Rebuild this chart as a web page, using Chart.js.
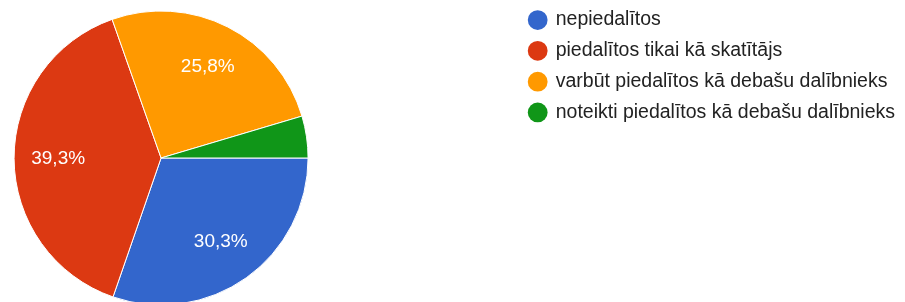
<!DOCTYPE html>
<html>
<head>
<meta charset="utf-8">
<script src="https://cdn.jsdelivr.net/npm/chart.js@4.4.1/dist/chart.umd.min.js"></script>
<style>
  html, body { margin: 0; padding: 0; background: #fff; }
  #wrap { position: relative; width: 905px; height: 302px; overflow: hidden; }
  #chart { position: absolute; left: -196px; top: -1px; }
</style>
</head>
<body>
<div id="wrap"><canvas id="chart" width="1101" height="320"></canvas></div>
<script>
const labels = [
    "nepiedalītos",
    "piedalītos tikai kā skatītājs",
    "varbūt piedalītos kā debašu dalībnieks",
    "noteikti piedalītos kā debašu dalībnieks"
];
const shares = [30.3, 39.3, 25.8, 4.6];
const colors = ['#3366cc', '#dc3912', '#ff9900', '#109618'];

const fontFamily = '"Liberation Sans", Arial, sans-serif';

// slice labels in white, hidden for the small slices
const sliceLabels = {
    id: 'sliceLabels',
    afterDatasetsDraw(chart) {
        const ctx = chart.ctx;
        const meta = chart.getDatasetMeta(0);
        const data = chart.data.datasets[0].data;
        const total = data.reduce((a, b) => a + b, 0);
        ctx.save();
        ctx.fillStyle = '#ffffff';
        ctx.font = '19px ' + fontFamily;
        ctx.textAlign = 'center';
        ctx.textBaseline = 'middle';
        meta.data.forEach(function(arc, i) {
            const pct = data[i] / total * 100;
            if (pct < 5) return;
            const mid = (arc.startAngle + arc.endAngle) / 2;
            const r = arc.outerRadius * 0.7;
            const x = arc.x + Math.cos(mid) * r;
            const y = arc.y + Math.sin(mid) * r;
            ctx.fillText(pct.toFixed(1).replace('.', ',') + '%', x, y);
        });
        ctx.restore();
    }
};

new Chart(document.getElementById('chart'), {
    type: 'pie',
    data: {
        labels: labels,
        datasets: [{
            data: shares,
            backgroundColor: colors,
            borderColor: '#ffffff',
            borderWidth: 1,
            radius: 147
        }]
    },
    options: {
        responsive: false,
        animation: false,
        rotation: 90,
        layout: { padding: { left: 0, right: 0, top: 0, bottom: 2 } },
        plugins: {
            tooltip: { enabled: false },
            legend: {
                position: 'right',
                align: 'start',
                labels: {
                    usePointStyle: true,
                    pointStyle: 'circle',
                    boxWidth: 16.5,
                    boxHeight: 14,
                    padding: 11.3,
                    color: '#222222',
                    font: { family: fontFamily, size: 19.5 },
                    generateLabels: function(chart) {
                        return Chart.overrides.pie.plugins.legend.labels.generateLabels(chart)
                            .map(function(item) { item.lineWidth = 0; return item; });
                    }
                }
            }
        }
    },
    plugins: [sliceLabels]
});
</script>
</body>
</html>
